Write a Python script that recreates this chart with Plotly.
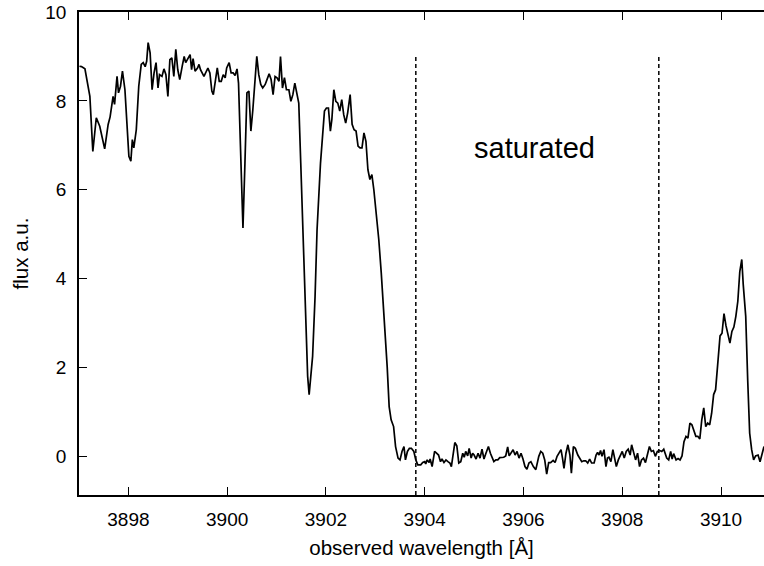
import plotly.graph_objects as go

# Spectrum: observed wavelength [Å] and flux [a.u.]
wavelength = [
    3897.01, 3897.05, 3897.12, 3897.17, 3897.22, 3897.28, 3897.35, 3897.42, 3897.49, 3897.52,
    3897.59, 3897.63, 3897.69, 3897.72, 3897.77, 3897.80, 3897.84, 3897.88, 3897.93, 3897.97,
    3898.01, 3898.05, 3898.08, 3898.11, 3898.16, 3898.21, 3898.26, 3898.30, 3898.34, 3898.37,
    3898.40, 3898.44, 3898.48, 3898.52, 3898.56, 3898.60, 3898.63, 3898.68, 3898.72, 3898.76,
    3898.80, 3898.84, 3898.88, 3898.92, 3898.96, 3899.00, 3899.04, 3899.09, 3899.13, 3899.16,
    3899.21, 3899.25, 3899.28, 3899.31, 3899.35, 3899.40, 3899.43, 3899.46, 3899.53, 3899.57,
    3899.61, 3899.65, 3899.69, 3899.72, 3899.76, 3899.80, 3899.84, 3899.88, 3899.92, 3899.96,
    3899.99, 3900.04, 3900.08, 3900.12, 3900.16, 3900.20, 3900.23, 3900.27, 3900.32, 3900.36,
    3900.40, 3900.44, 3900.48, 3900.52, 3900.56, 3900.60, 3900.64, 3900.68, 3900.72, 3900.77,
    3900.81, 3900.85, 3900.89, 3900.93, 3900.97, 3901.01, 3901.05, 3901.08, 3901.12, 3901.16,
    3901.20, 3901.25, 3901.29, 3901.33, 3901.37, 3901.41, 3901.45, 3901.49, 3901.54, 3901.60,
    3901.63, 3901.66, 3901.70, 3901.73, 3901.78, 3901.82, 3901.89, 3901.94, 3901.97, 3902.01,
    3902.05, 3902.09, 3902.12, 3902.16, 3902.20, 3902.24, 3902.28, 3902.32, 3902.36, 3902.40,
    3902.44, 3902.49, 3902.53, 3902.57, 3902.61, 3902.65, 3902.69, 3902.73, 3902.77, 3902.81,
    3902.85, 3902.89, 3902.93, 3902.97, 3903.02, 3903.07, 3903.12, 3903.17, 3903.21, 3903.24,
    3903.28, 3903.32, 3903.37, 3903.41, 3903.46, 3903.50, 3903.54, 3903.58, 3903.61, 3903.65,
    3903.69, 3903.73, 3903.78, 3903.82, 3903.86, 3903.92, 3903.96, 3904.00, 3904.02, 3904.05,
    3904.09, 3904.11, 3904.15, 3904.20, 3904.24, 3904.28, 3904.32, 3904.35, 3904.39, 3904.43,
    3904.47, 3904.51, 3904.54, 3904.61, 3904.65, 3904.69, 3904.73, 3904.77, 3904.80, 3904.83,
    3904.87, 3904.90, 3904.94, 3904.97, 3905.00, 3905.04, 3905.08, 3905.12, 3905.16, 3905.20,
    3905.24, 3905.29, 3905.33, 3905.37, 3905.40, 3905.44, 3905.48, 3905.52, 3905.56, 3905.60,
    3905.64, 3905.68, 3905.71, 3905.75, 3905.79, 3905.83, 3905.87, 3905.91, 3905.95, 3905.99,
    3906.03, 3906.07, 3906.11, 3906.15, 3906.20, 3906.25, 3906.31, 3906.35, 3906.39, 3906.43,
    3906.47, 3906.51, 3906.55, 3906.60, 3906.64, 3906.68, 3906.72, 3906.76, 3906.79, 3906.82,
    3906.86, 3906.90, 3906.94, 3906.97, 3907.01, 3907.05, 3907.10, 3907.14, 3907.18, 3907.22,
    3907.26, 3907.30, 3907.34, 3907.38, 3907.43, 3907.47, 3907.50, 3907.53, 3907.56, 3907.59,
    3907.63, 3907.67, 3907.70, 3907.73, 3907.77, 3907.81, 3907.85, 3907.88, 3907.92, 3907.96,
    3908.00, 3908.04, 3908.08, 3908.12, 3908.16, 3908.19, 3908.23, 3908.27, 3908.31, 3908.35,
    3908.39, 3908.43, 3908.47, 3908.51, 3908.55, 3908.59, 3908.63, 3908.67, 3908.71, 3908.76,
    3908.80, 3908.84, 3908.90, 3908.94, 3908.98, 3909.01, 3909.04, 3909.09, 3909.13, 3909.17,
    3909.21, 3909.25, 3909.29, 3909.33, 3909.37, 3909.41, 3909.45, 3909.49, 3909.53, 3909.57,
    3909.61, 3909.65, 3909.69, 3909.73, 3909.77, 3909.81, 3909.85, 3909.89, 3909.94, 3909.98,
    3910.02, 3910.06, 3910.10, 3910.14, 3910.18, 3910.22, 3910.26, 3910.30, 3910.34, 3910.38,
    3910.42, 3910.45, 3910.50, 3910.54, 3910.58, 3910.62, 3910.66, 3910.70, 3910.75, 3910.79,
    3910.83, 3910.87,
]

flux = [
    8.78, 8.77, 8.72, 8.40, 8.10, 6.86, 7.62, 7.43, 7.02, 6.92,
    7.47, 7.64, 8.10, 7.92, 8.55, 8.18, 8.33, 8.67, 8.25, 7.35,
    6.75, 6.64, 7.13, 6.94, 7.35, 8.33, 8.82, 8.86, 8.77, 8.89,
    9.31, 9.08, 8.25, 8.63, 8.86, 8.29, 8.59, 8.55, 8.72, 8.59,
    8.10, 8.93, 8.97, 8.55, 9.16, 8.70, 8.48, 8.78, 9.00, 8.86,
    8.97, 9.04, 8.70, 8.95, 8.67, 8.74, 8.82, 8.70, 8.55, 8.63,
    8.74, 8.63, 8.22, 8.14, 8.48, 8.74, 8.44, 8.44, 8.59, 8.52,
    8.74, 8.86, 8.63, 8.63, 8.57, 8.72, 8.40, 7.13, 5.14, 6.60,
    8.18, 8.22, 7.32, 7.80, 8.40, 9.00, 8.59, 8.37, 8.29, 8.37,
    8.49, 8.61, 8.48, 8.14, 8.55, 8.52, 8.44, 9.00, 8.29, 8.52,
    8.25, 8.25, 7.99, 8.14, 8.40, 8.18, 7.95, 6.60, 4.73, 2.85,
    1.80, 1.39, 1.87, 2.25, 3.60, 5.10, 6.60, 7.50, 7.77, 7.84,
    7.84, 7.32, 7.58, 8.25, 7.99, 7.95, 7.77, 8.03, 7.69, 7.50,
    7.73, 8.14, 7.47, 7.35, 7.32, 6.98, 6.94, 6.94, 7.28, 7.09,
    6.45, 6.23, 6.34, 6.00, 5.48, 4.88, 4.13, 3.23, 2.77, 2.02,
    1.12, 0.82, 0.67, 0.22, -0.04, -0.08, 0.11, 0.22, -0.08, 0.11,
    0.18, 0.18, 0.11, -0.08, -0.19, -0.19, -0.14, -0.12, -0.17, -0.08,
    -0.14, -0.06, -0.23, 0.11, 0.07, 0.03, -0.12, -0.06, -0.14, -0.08,
    -0.12, -0.15, -0.23, 0.31, 0.24, -0.15, -0.12, 0.07, -0.02, 0.11,
    0.01, 0.18, -0.04, 0.07, 0.03, -0.06, 0.07, -0.04, 0.16, -0.06,
    0.07, 0.22, 0.07, -0.06, -0.12, -0.08, -0.08, -0.03, -0.02, -0.02,
    0.01, 0.21, 0.01, 0.07, 0.15, 0.03, 0.11, -0.04, 0.07, -0.06,
    -0.23, -0.29, -0.15, -0.12, -0.23, -0.30, 0.00, 0.11, 0.07, -0.08,
    -0.40, -0.14, -0.14, -0.09, -0.14, 0.00, 0.09, 0.15, -0.04, -0.27,
    0.07, 0.26, 0.03, -0.38, 0.22, 0.18, 0.03, -0.06, -0.12, -0.10,
    -0.10, -0.15, -0.06, -0.15, -0.15, 0.03, 0.09, 0.03, 0.13, 0.00,
    0.15, -0.23, -0.04, -0.02, -0.12, 0.15, -0.08, -0.23, -0.08, 0.00,
    0.11, -0.04, 0.11, 0.16, 0.03, 0.26, 0.07, -0.08, 0.07, -0.23,
    -0.08, -0.04, -0.14, 0.03, 0.22, 0.11, 0.13, 0.00, 0.11, 0.13,
    0.11, 0.16, -0.04, -0.08, 0.11, -0.06, 0.06, -0.08, -0.05, -0.08,
    0.01, 0.33, 0.45, 0.41, 0.75, 0.71, 0.60, 0.45, 0.45, 0.39,
    0.82, 1.09, 0.67, 0.75, 0.71, 0.97, 1.39, 1.50, 2.17, 2.71,
    2.77, 3.21, 2.94, 2.70, 2.55, 2.81, 2.91, 3.15, 3.49, 4.16,
    4.43, 3.86, 3.15, 1.72, 0.52, 0.15, -0.08, 0.01, 0.03, -0.12,
    0.07, 0.22,
]

# Edges of the saturated region
saturation_edges = [3903.82, 3908.74]
edge_top = 9.0

x_range = [3897.0, 3910.87]
y_range = [-0.87, 10.0]
x_ticks = [3898, 3900, 3902, 3904, 3906, 3908, 3910]
y_ticks = [0, 2, 4, 6, 8, 10]

label_text = "saturated"
label_pos = (3906.23, 6.95)

FONT = "Liberation Sans, Arial, sans-serif"

fig = go.Figure()

fig.add_trace(go.Scatter(
    x=wavelength, y=flux, mode="lines",
    line=dict(color="black", width=1.7),
    hoverinfo="skip", showlegend=False,
))

for edge in saturation_edges:
    fig.add_trace(go.Scatter(
        x=[edge, edge], y=[y_range[0], edge_top], mode="lines",
        line=dict(color="black", width=1.5, dash="4px,3px"),
        hoverinfo="skip", showlegend=False,
    ))

fig.add_annotation(
    x=label_pos[0], y=label_pos[1], text=label_text, showarrow=False,
    font=dict(family=FONT, size=29, color="black"),
    xanchor="center", yanchor="middle",
)

fig.update_layout(
    width=764, height=566,
    margin=dict(l=79, r=0, t=12, b=71),
    paper_bgcolor="white", plot_bgcolor="white",
    font=dict(family=FONT, size=19, color="black"),
    xaxis=dict(
        range=x_range, tickvals=x_ticks, ticks="inside", ticklen=8,
        tickwidth=1.2, tickcolor="black", showline=True, linecolor="black",
        linewidth=1.5, mirror="ticks", showgrid=False, zeroline=False,
        title=dict(text="observed wavelength [Å]", standoff=12,
                   font=dict(family=FONT, size=20.5)),
        ticklabelstandoff=6,
    ),
    yaxis=dict(
        range=y_range, tickvals=y_ticks, ticks="inside", ticklen=8,
        tickwidth=1.2, tickcolor="black", showline=True, linecolor="black",
        linewidth=1.5, mirror=False, showgrid=False, zeroline=False,
        title=dict(text="flux a.u.", standoff=11,
                   font=dict(family=FONT, size=20.5)),
        ticklabelstandoff=7,
    ),
)

fig.write_html("out.html")
